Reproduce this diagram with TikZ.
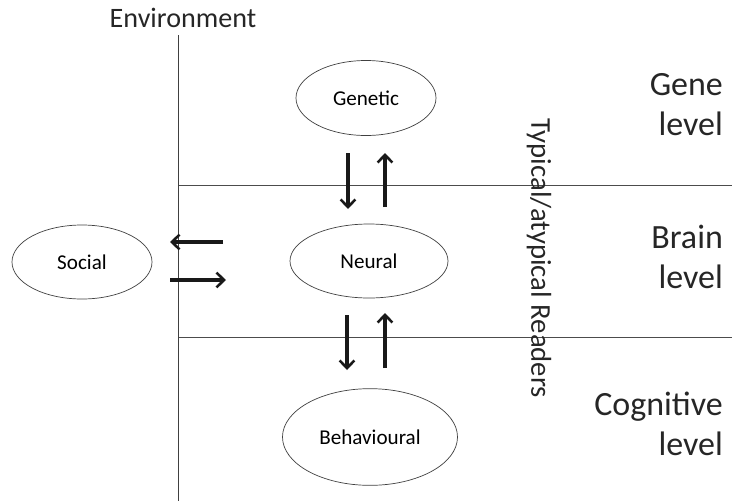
\documentclass[tikz,border=0pt]{standalone}
\usepackage{fontspec}
\setmainfont{Carlito}
\usetikzlibrary{shapes.geometric,arrows.meta}
\tikzset{
	oval/.style={ellipse, draw=black!75, line width=0.6pt, inner sep=0pt, font=\fontsize{18}{21}\selectfont},
	tier/.style={anchor=east, align=right, text=black!85, font=\fontsize{29}{34}\selectfont},
	flow/.style={->, line width=2.6pt, black!90}
}
\begin{document}
\begin{tikzpicture}[x=0.03cm, y=-0.03cm, line join=round, >={Straight Barb[length=2.3mm,width=4.4mm,line width=2.2pt]}]
	\useasboundingbox (0,0) rectangle (732,501);
	% levels
	\draw[black!70, line width=0.8pt] (178,185)--(732,185);
	\draw[black!70, line width=0.8pt] (178,337)--(732,337);
	\draw[black!75, line width=0.6pt] (178,35)--(178,501);
	\node (env) at (183,18) [text=black!85, font=\fontsize{24}{28}\selectfont]{Environment};
	% nodes
	\node[oval, minimum width=4.2cm, minimum height=2.25cm] (gen) at (366,98){Genetic};
	\node[oval, minimum width=4.74cm, minimum height=2.22cm] (neu) at (369,261){Neural};
	\node[oval, minimum width=4.2cm, minimum height=2.22cm] (soc) at (82,262){Social};
	\node[oval, minimum width=5.25cm, minimum height=2.9cm] (beh) at (370,437){Behavioural};
	\node (read) at (539,258) [rotate=-90, text=black!85, font=\fontsize{24.5}{28}\selectfont]{Typical/atypical Readers};
	\node[tier] (gene) at (727,105){Gene\\level};
	\node[tier] (brain) at (727,257){Brain\\level};
	\node[tier] (cog) at (727,424){Cognitive\\level};
	% arrows
	\foreach \n/\a/\b/\c/\d in {gd/348/153/348/209, gu/385/207/385/153, nd/347/315/347/370, nu/385/368/385/313, sl/223/242/170/242, sr/170/280/226/280}{
		\coordinate (\n1) at (\a,\b);
		\coordinate (\n2) at (\c,\d);
		\draw[flow] (\n1)--(\n2);
	}
\end{tikzpicture}
\end{document}
